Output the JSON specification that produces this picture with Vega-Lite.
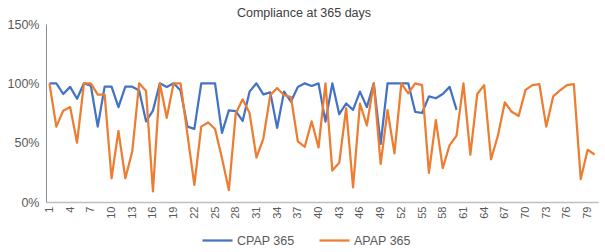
{
 "$schema": "https://vega.github.io/schema/vega-lite/v6.json",
 "width": 552,
 "height": 178,
 "autosize": {"type": "none"},
 "padding": {"left": 46, "top": 24, "right": 7, "bottom": 50},
 "background": "white",
 "title": {"text": "Compliance at 365 days", "font": "Liberation Sans", "fontSize": 12.5, "fontWeight": "normal", "color": "#404040", "anchor": "middle", "dx": -18, "offset": -1},
 "config": {"view": {"stroke": null}, "font": "Liberation Sans"},
 "data": {"values": [
  {"day":1,"series":"CPAP 365","value":1.0},{"day":2,"series":"CPAP 365","value":1.0},{"day":3,"series":"CPAP 365","value":0.91},{"day":4,"series":"CPAP 365","value":0.97},{"day":5,"series":"CPAP 365","value":0.87},
  {"day":6,"series":"CPAP 365","value":1.0},{"day":7,"series":"CPAP 365","value":0.98},{"day":8,"series":"CPAP 365","value":0.635},{"day":9,"series":"CPAP 365","value":0.972},{"day":10,"series":"CPAP 365","value":0.972},
  {"day":11,"series":"CPAP 365","value":0.80},{"day":12,"series":"CPAP 365","value":0.972},{"day":13,"series":"CPAP 365","value":0.972},{"day":14,"series":"CPAP 365","value":0.94},{"day":15,"series":"CPAP 365","value":0.68},
  {"day":16,"series":"CPAP 365","value":0.77},{"day":17,"series":"CPAP 365","value":1.0},{"day":18,"series":"CPAP 365","value":0.97},{"day":19,"series":"CPAP 365","value":1.0},{"day":20,"series":"CPAP 365","value":0.94},
  {"day":21,"series":"CPAP 365","value":0.635},{"day":22,"series":"CPAP 365","value":0.616},{"day":23,"series":"CPAP 365","value":1.0},{"day":24,"series":"CPAP 365","value":1.0},{"day":25,"series":"CPAP 365","value":1.0},
  {"day":26,"series":"CPAP 365","value":0.583},{"day":27,"series":"CPAP 365","value":0.772},{"day":28,"series":"CPAP 365","value":0.765},{"day":29,"series":"CPAP 365","value":0.683},{"day":30,"series":"CPAP 365","value":0.93},
  {"day":31,"series":"CPAP 365","value":1.0},{"day":32,"series":"CPAP 365","value":0.907},{"day":33,"series":"CPAP 365","value":0.924},{"day":34,"series":"CPAP 365","value":0.625},{"day":35,"series":"CPAP 365","value":0.93},
  {"day":36,"series":"CPAP 365","value":0.845},{"day":37,"series":"CPAP 365","value":0.97},{"day":38,"series":"CPAP 365","value":1.0},{"day":39,"series":"CPAP 365","value":0.978},{"day":40,"series":"CPAP 365","value":1.0},
  {"day":41,"series":"CPAP 365","value":0.677},{"day":42,"series":"CPAP 365","value":1.0},{"day":43,"series":"CPAP 365","value":0.74},{"day":44,"series":"CPAP 365","value":0.83},{"day":45,"series":"CPAP 365","value":0.776},
  {"day":46,"series":"CPAP 365","value":0.93},{"day":47,"series":"CPAP 365","value":0.80},{"day":48,"series":"CPAP 365","value":1.0},{"day":49,"series":"CPAP 365","value":0.49},{"day":50,"series":"CPAP 365","value":1.0},
  {"day":51,"series":"CPAP 365","value":1.0},{"day":52,"series":"CPAP 365","value":1.0},{"day":53,"series":"CPAP 365","value":1.0},{"day":54,"series":"CPAP 365","value":0.76},{"day":55,"series":"CPAP 365","value":0.75},
  {"day":56,"series":"CPAP 365","value":0.89},{"day":57,"series":"CPAP 365","value":0.874},{"day":58,"series":"CPAP 365","value":0.91},{"day":59,"series":"CPAP 365","value":0.97},{"day":60,"series":"CPAP 365","value":0.776},
  {"day":1,"series":"APAP 365","value":1.0},{"day":2,"series":"APAP 365","value":0.635},{"day":3,"series":"APAP 365","value":0.77},{"day":4,"series":"APAP 365","value":0.80},{"day":5,"series":"APAP 365","value":0.50},
  {"day":6,"series":"APAP 365","value":1.0},{"day":7,"series":"APAP 365","value":1.0},{"day":8,"series":"APAP 365","value":0.905},{"day":9,"series":"APAP 365","value":0.905},{"day":10,"series":"APAP 365","value":0.20},
  {"day":11,"series":"APAP 365","value":0.60},{"day":12,"series":"APAP 365","value":0.20},{"day":13,"series":"APAP 365","value":0.425},{"day":14,"series":"APAP 365","value":1.0},{"day":15,"series":"APAP 365","value":0.935},
  {"day":16,"series":"APAP 365","value":0.09},{"day":17,"series":"APAP 365","value":1.0},{"day":18,"series":"APAP 365","value":0.71},{"day":19,"series":"APAP 365","value":1.0},{"day":20,"series":"APAP 365","value":1.0},
  {"day":21,"series":"APAP 365","value":0.57},{"day":22,"series":"APAP 365","value":0.145},{"day":23,"series":"APAP 365","value":0.635},{"day":24,"series":"APAP 365","value":0.67},{"day":25,"series":"APAP 365","value":0.615},
  {"day":26,"series":"APAP 365","value":0.37},{"day":27,"series":"APAP 365","value":0.10},{"day":28,"series":"APAP 365","value":0.745},{"day":29,"series":"APAP 365","value":0.865},{"day":30,"series":"APAP 365","value":0.75},
  {"day":31,"series":"APAP 365","value":0.375},{"day":32,"series":"APAP 365","value":0.535},{"day":33,"series":"APAP 365","value":0.90},{"day":34,"series":"APAP 365","value":0.96},{"day":35,"series":"APAP 365","value":0.90},
  {"day":36,"series":"APAP 365","value":0.885},{"day":37,"series":"APAP 365","value":0.51},{"day":38,"series":"APAP 365","value":0.465},{"day":39,"series":"APAP 365","value":0.68},{"day":40,"series":"APAP 365","value":0.46},
  {"day":41,"series":"APAP 365","value":1.0},{"day":42,"series":"APAP 365","value":0.265},{"day":43,"series":"APAP 365","value":0.33},{"day":44,"series":"APAP 365","value":0.79},{"day":45,"series":"APAP 365","value":0.123},
  {"day":46,"series":"APAP 365","value":0.83},{"day":47,"series":"APAP 365","value":0.645},{"day":48,"series":"APAP 365","value":1.0},{"day":49,"series":"APAP 365","value":0.32},{"day":50,"series":"APAP 365","value":0.775},
  {"day":51,"series":"APAP 365","value":0.41},{"day":52,"series":"APAP 365","value":1.0},{"day":53,"series":"APAP 365","value":0.915},{"day":54,"series":"APAP 365","value":1.0},{"day":55,"series":"APAP 365","value":0.985},
  {"day":56,"series":"APAP 365","value":0.245},{"day":57,"series":"APAP 365","value":0.69},{"day":58,"series":"APAP 365","value":0.285},{"day":59,"series":"APAP 365","value":0.48},{"day":60,"series":"APAP 365","value":0.56},
  {"day":61,"series":"APAP 365","value":1.0},{"day":62,"series":"APAP 365","value":0.40},{"day":63,"series":"APAP 365","value":0.91},{"day":64,"series":"APAP 365","value":0.985},{"day":65,"series":"APAP 365","value":0.36},
  {"day":66,"series":"APAP 365","value":0.56},{"day":67,"series":"APAP 365","value":0.84},{"day":68,"series":"APAP 365","value":0.76},{"day":69,"series":"APAP 365","value":0.725},{"day":70,"series":"APAP 365","value":0.945},
  {"day":71,"series":"APAP 365","value":0.985},{"day":72,"series":"APAP 365","value":0.994},{"day":73,"series":"APAP 365","value":0.635},{"day":74,"series":"APAP 365","value":0.89},{"day":75,"series":"APAP 365","value":0.94},
  {"day":76,"series":"APAP 365","value":0.985},{"day":77,"series":"APAP 365","value":0.994},{"day":78,"series":"APAP 365","value":0.193},{"day":79,"series":"APAP 365","value":0.44},{"day":80,"series":"APAP 365","value":0.40}
 ]},
 "mark": {"type": "line", "strokeWidth": 2.25, "strokeJoin": "round"},
 "encoding": {
  "x": {"field": "day", "type": "quantitative",
        "scale": {"domain": [0.5, 80.5], "nice": false, "zero": false},
        "axis": {"title": null, "values": [1,4,7,10,13,16,19,22,25,28,31,34,37,40,43,46,49,52,55,58,61,64,67,70,73,76,79],
                 "labelAngle": -90, "labelFontSize": 11, "labelColor": "#595959", "labelPadding": 4, "ticks": false,
                 "grid": false, "domainColor": "#BFBFBF", "domainWidth": 1.5, "labelFlush": false, "labelOverlap": false}},
  "y": {"field": "value", "type": "quantitative",
        "scale": {"domain": [0, 1.5], "nice": false},
        "axis": {"title": null, "values": [0, 0.5, 1, 1.5], "format": ".0%", "labelFontSize": 12.5, "labelColor": "#595959",
                 "labelPadding": 7, "ticks": false, "grid": false, "domainColor": "#8C8C8C", "domainWidth": 1, "labelFlush": false}},
  "color": {"field": "series", "type": "nominal",
            "scale": {"domain": ["CPAP 365", "APAP 365"], "range": ["#4472C4", "#ED7D31"]},
            "legend": {"title": null, "orient": "none", "legendX": 155, "legendY": 200, "direction": "horizontal",
                       "symbolType": "stroke", "symbolSize": 900, "symbolStrokeWidth": 2.25, "labelFontSize": 12.5,
                       "labelColor": "#595959", "labelOffset": 3, "columnPadding": 20}}
 }
}
